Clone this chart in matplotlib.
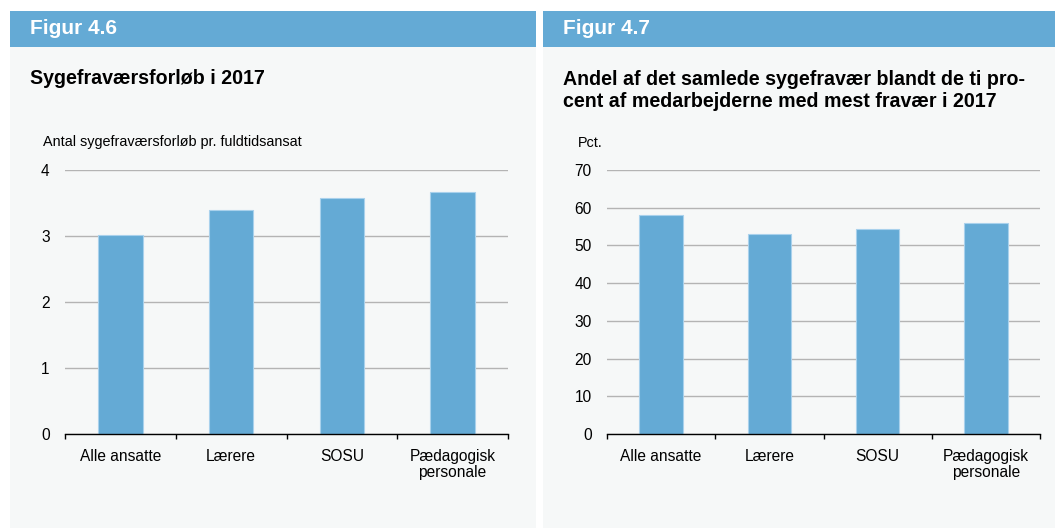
import matplotlib
matplotlib.use("Agg")
import matplotlib.pyplot as plt
from matplotlib.patches import Rectangle

plt.rcParams['font.family'] = ['Liberation Sans', 'DejaVu Sans']

categories = ["Alle ansatte", "Lærere", "SOSU", "Pædagogisk\npersonale"]
forloeb = [3.02, 3.40, 3.57, 3.67]
andel = [58.2, 53.0, 54.4, 56.0]

W, H = 1055, 528
BLUE = "#64aad5"
BG = "#f6f8f8"
GRID = "#b4b4b4"

fig = plt.figure(figsize=(W / 100, H / 100), dpi=100)
fig.patch.set_facecolor("white")

def px_rect(x0, y0, x1, y1, color):
    fig.patches.append(Rectangle((x0 / W, 1 - y1 / H), (x1 - x0) / W, (y1 - y0) / H,
                                 transform=fig.transFigure, facecolor=color,
                                 edgecolor="none", zorder=-5))

def ftext(x, y, s, **kw):
    fig.text(x / W, 1 - y / H, s, **kw)

# panels
px_rect(10, 11, 536, 528, BG)
px_rect(543, 11, 1055, 528, BG)
px_rect(10, 11, 536, 47, BLUE)
px_rect(543, 11, 1055, 47, BLUE)

ftext(30, 29, "Figur 4.6", color="white", fontsize=15, fontweight="bold", va="center")
ftext(563, 29, "Figur 4.7", color="white", fontsize=15, fontweight="bold", va="center")

ftext(30, 78, "Sygefraværsforløb i 2017", fontsize=14.1, fontweight="bold", va="center")
ftext(563, 70,
      "Andel af det samlede sygefravær blandt de ti pro-\ncent af medarbejderne med mest fravær i 2017",
      fontsize=14.1, fontweight="bold", va="top", linespacing=1.22)

ftext(43, 142, "Antal sygefraværsforløb pr. fuldtidsansat", fontsize=10.4, va="center")
ftext(578, 143, "Pct.", fontsize=10.4, va="center")


def make_axes(x0, x1, values, ymax, ystep):
    ax = fig.add_axes([x0 / W, 1 - 434 / H, (x1 - x0) / W, (434 - 170) / H])
    ax.set_zorder(2)
    ax.set_facecolor("none")
    xs = list(range(len(categories)))
    ax.bar(xs, values, width=0.4, color=BLUE, edgecolor="#a9d1ec", linewidth=0.8, zorder=3)
    ax.set_xlim(-0.5, len(categories) - 0.5)
    ax.set_ylim(0, ymax)
    ax.set_yticks(range(0, ymax + 1, ystep))
    ax.yaxis.grid(True, color=GRID, linewidth=1.0, zorder=0)
    ax.set_axisbelow(True)
    ax.tick_params(axis="y", length=0, pad=11, labelsize=11.2)
    for sp in ["top", "right", "left"]:
        ax.spines[sp].set_visible(False)
    ax.spines["bottom"].set_color("black")
    ax.spines["bottom"].set_linewidth(1.0)
    ax.spines["bottom"].set_zorder(4)
    bounds = [i - 0.5 for i in range(len(categories) + 1)]
    ax.set_xticks(bounds)
    ax.set_xticklabels([""] * len(bounds))
    ax.tick_params(axis="x", length=3.8, width=1.0, direction="out", color="black")
    ax.set_xticks(xs, minor=True)
    ax.set_xticklabels(categories, minor=True, fontsize=11.2, linespacing=1.05)
    ax.tick_params(axis="x", which="minor", length=0, pad=11)
    return ax

make_axes(65, 508, forloeb, 4, 1)
make_axes(607, 1040, andel, 70, 10)

fig.savefig("out.png", dpi=100, facecolor=fig.get_facecolor())
